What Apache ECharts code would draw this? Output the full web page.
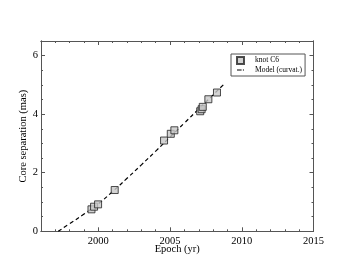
<!DOCTYPE html>
<html><head><meta charset="utf-8">
<script src="https://cdn.jsdelivr.net/npm/echarts@6/dist/echarts.min.js"></script>
<style>html,body{margin:0;padding:0;background:#fff}#c{width:353px;height:273px}</style>
</head><body><div id="c"></div>
<script>
var knotEpoch = [1999.52, 1999.70, 1999.98, 2001.14, 2004.58, 2005.05, 2005.30, 2007.10, 2007.20, 2007.28, 2007.67, 2008.27];
var knotSep   = [0.75, 0.84, 0.92, 1.41, 3.10, 3.33, 3.45, 4.10, 4.17, 4.25, 4.51, 4.74];
var modelEpoch = [1997.2, 1998, 1999, 2000, 2001, 2002, 2003, 2004, 2005, 2006, 2007, 2008, 2008.75];
var modelSep   = [0.0, 0.26, 0.59, 0.94, 1.36, 1.81, 2.27, 2.74, 3.22, 3.70, 4.18, 4.66, 5.02];
var xMajor = [2000, 2005, 2010, 2015];
var xMinor = [1997, 1998, 1999, 2001, 2002, 2003, 2004, 2006, 2007, 2008, 2009, 2011, 2012, 2013, 2014];
var yMajor = [0, 2, 4, 6];
var yMinor = [0.5, 1, 1.5, 2.5, 3, 3.5, 4.5, 5, 5.5, 6.5];

var serif = '"Liberation Serif", "DejaVu Serif", serif';
var axCol = '#555';
function xAx(g, pos, vals, len, labels) {
  return {type:'value', gridIndex:g, min:1996, max:2015, position:pos,
    axisLine:{show:true, onZero:false, lineStyle:{color:axCol, width:1}},
    axisTick:{show:true, inside:true, length:len, customValues:vals, lineStyle:{color:axCol}},
    axisLabel:{show:labels, customValues:vals, color:'#000', fontFamily:serif, fontSize:10.5, margin:4,
      formatter:function(v){return String(v);}},
    splitLine:{show:false}};
}
function yAx(g, pos, vals, len, labels) {
  return {type:'value', gridIndex:g, min:0, max:6.5, position:pos,
    axisLine:{show:true, onZero:false, lineStyle:{color:axCol, width:1}},
    axisTick:{show:true, inside:true, length:len, customValues:vals, lineStyle:{color:axCol}},
    axisLabel:{show:labels, customValues:vals, color:'#000', fontFamily:serif, fontSize:10.5, margin:3,
      formatter:function(v){return String(v);}},
    splitLine:{show:false}};
}
var xa = [xAx(0,'bottom', xMajor, 4, true), xAx(0,'top', xMajor, 4, false), xAx(1,'bottom', xMinor, 2, false), xAx(1,'top', xMinor, 2, false)];
xa[0].name = 'Epoch (yr)'; xa[0].nameLocation = 'middle'; xa[0].nameGap = 12; xa[0].nameMoveOverlap = false;
xa[0].nameTextStyle = {color:'#000', fontFamily:serif, fontSize:10.5};
var ya = [yAx(0,'left', yMajor, 4, true), yAx(0,'right', yMajor, 4, false), yAx(1,'left', yMinor, 2, false), yAx(1,'right', yMinor, 2, false)];
ya[0].name = 'Core separation (mas)'; ya[0].nameLocation = 'middle'; ya[0].nameGap = 12.5; ya[0].nameMoveOverlap = false;
ya[0].nameTextStyle = {color:'#000', fontFamily:serif, fontSize:10.5};

var g = {left:41, right:39.5, top:41, bottom:41.7, containLabel:false};
var chart = echarts.init(document.getElementById('c'), null, {renderer:'canvas'});
chart.setOption({
  animation:false,
  grid:[g, Object.assign({}, g)],
  xAxis: xa,
  yAxis: ya,
  legend:{orient:'vertical', left:231, top:54, width:72, padding:[2,3,2,5], itemGap:1,
    itemWidth:7, itemHeight:7, borderColor:'#555', borderWidth:1, borderRadius:0,
    textStyle:{fontFamily:serif, fontSize:7.5, color:'#000', padding:[0,0,0,6]},
    data:[{name:'knot C6', icon:'rect'},
          {name:'Model (curvat.)', icon:'path://M0,0L0.01,0L0,0.01Z M0,3h4.6v1.1h-4.6z M5.9,3h1.1v1.1h-1.1z M7,7L6.99,7L7,6.99Z'}]},
  series:[
    {name:'Model (curvat.)', type:'line', xAxisIndex:0, yAxisIndex:0, smooth:true, symbol:'none',
      data: modelEpoch.map(function(x,i){return [x, modelSep[i]];}),
      lineStyle:{color:'#000', width:1.2, type:[4,3]}, itemStyle:{color:'#000'}, z:3},
    {name:'knot C6', type:'scatter', xAxisIndex:0, yAxisIndex:0, symbol:'rect', symbolSize:7,
      data: knotEpoch.map(function(x,i){return [x, knotSep[i]];}),
      itemStyle:{color:'#c8c8c8', borderColor:'#222', borderWidth:1}, z:4}
  ]
});
</script></body></html>
